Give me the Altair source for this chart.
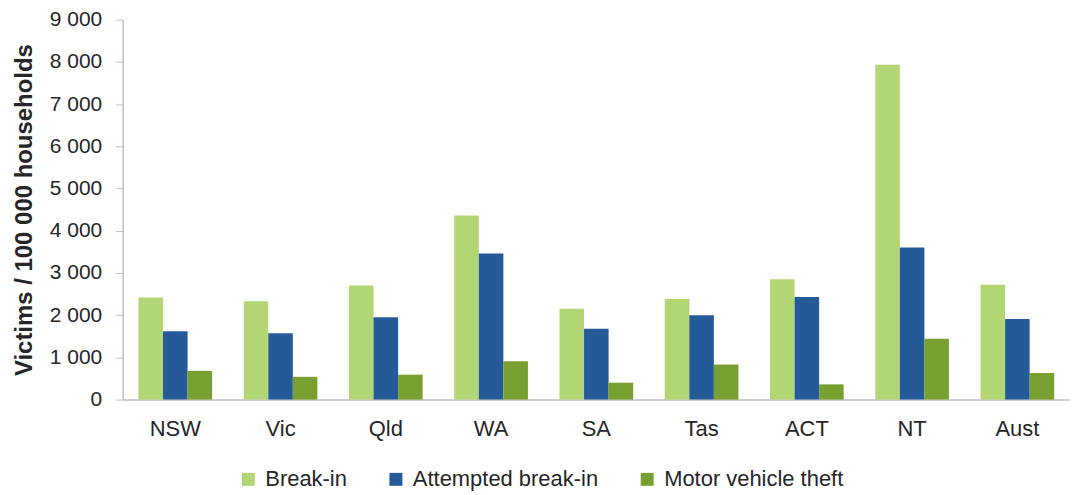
import altair as alt
import pandas as pd

regions = ["NSW", "Vic", "Qld", "WA", "SA", "Tas", "ACT", "NT", "Aust"]
series = ["Break-in", "Attempted break-in", "Motor vehicle theft"]
break_in = [2420, 2330, 2700, 4360, 2150, 2380, 2850, 7930, 2720]
attempted = [1620, 1570, 1950, 3460, 1680, 2000, 2430, 3600, 1910]
motor_vehicle = [680, 540, 590, 910, 400, 830, 360, 1440, 630]
colors = ["#B3D675", "#255A99", "#78A030"]
yticks = [0, 1000, 2000, 3000, 4000, 5000, 6000, 7000, 8000, 9000]

rows = []
for name, vals in zip(series, [break_in, attempted, motor_vehicle]):
    for r, v in zip(regions, vals):
        rows.append({"Region": r, "Series": name, "Value": v})
df = pd.DataFrame(rows)

font = "Liberation Sans"
text_color = "#262626"
axis_color = "#BFBFBF"

chart = (
    alt.Chart(df)
    .mark_bar()
    .encode(
        x=alt.X(
            "Region:N",
            sort=regions,
            scale=alt.Scale(paddingInner=0.3, paddingOuter=0.15),
            axis=alt.Axis(
                title=None,
                labelAngle=0,
                ticks=False,
                labelPadding=19,
                labelFontSize=22,
                labelFont=font,
                labelColor=text_color,
                domainColor=axis_color,
                domainWidth=1.5,
            ),
        ),
        xOffset=alt.XOffset("Series:N", sort=series, scale=alt.Scale(paddingInner=0, paddingOuter=0)),
        y=alt.Y(
            "Value:Q",
            scale=alt.Scale(domain=[0, 9000], nice=False),
            axis=alt.Axis(
                title="Victims / 100 000 households",
                titleFont=font,
                titleFontSize=24,
                titleFontWeight="bold",
                titleColor=text_color,
                titleX=-86,
                values=yticks,
                labelExpr="datum.value >= 1000 ? floor(datum.value / 1000) + ' 000' : '0'",
                labelFont=font,
                labelFontSize=21,
                labelColor=text_color,
                labelPadding=14,
                tickSize=7,
                tickColor=axis_color,
                domainColor=axis_color,
                domainWidth=1.5,
                grid=False,
            ),
        ),
        color=alt.Color(
            "Series:N",
            sort=series,
            scale=alt.Scale(domain=series, range=colors),
            legend=alt.Legend(
                title=None,
                orient="none",
                direction="horizontal",
                legendX=115,
                legendY=450,
                symbolType="square",
                symbolSize=169,
                symbolStrokeWidth=0,
                symbolOpacity=1,
                labelFont=font,
                labelFontSize=22,
                labelColor=text_color,
                labelOffset=6,
                labelLimit=400,
                columnPadding=38,
            ),
        ),
    )
    .properties(
        width=950,
        height=381,
        autosize=alt.AutoSizeParams(type="none"),
        padding={"left": 115, "top": 11, "right": 0, "bottom": 95},
    )
    .configure_view(stroke=None)
)

chart.save("out.html", embed_options={"renderer": "svg", "actions": False})
